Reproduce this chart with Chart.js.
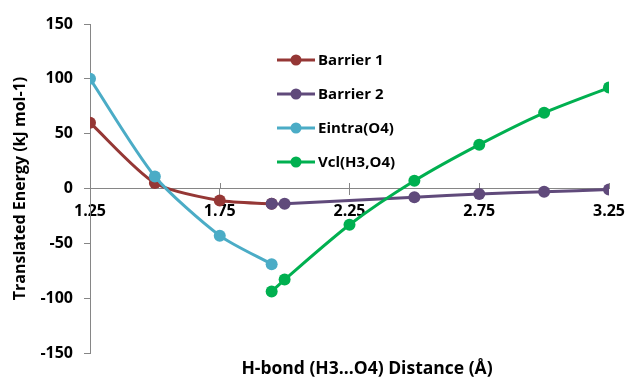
<!DOCTYPE html>
<html>
<head>
<meta charset="utf-8">
<script src="https://cdn.jsdelivr.net/npm/chart.js@4.4.0/dist/chart.umd.min.js"></script>
<style>
  html, body { margin: 0; padding: 0; background: #ffffff; }
  #wrap { width: 632px; height: 381px; }
</style>
</head>
<body>
<div id="wrap"><canvas id="c" width="632" height="381"></canvas></div>
<script>
// Series names, distances (Å) and translated energies (kJ mol-1)
const seriesNames = ['Barrier 1', 'Barrier 2', 'Eintra(O4)', 'Vcl(H3,O4)'];
const barrier1Dist = [1.25, 1.5, 1.75, 1.95];
const barrier1Energy = [60, 5, -11, -14];
const barrier2Dist = [1.95, 2.0, 2.5, 2.75, 3.0, 3.25];
const barrier2Energy = [-14, -14, -8, -5, -3, -1];
const eintraDist = [1.25, 1.5, 1.75, 1.95];
const eintraEnergy = [100, 11, -43, -69];
const vclDist = [1.95, 2.0, 2.25, 2.5, 2.75, 3.0, 3.25];
const vclEnergy = [-94, -83, -33, 7, 40, 69, 92];
const xTicks = [1.25, 1.75, 2.25, 2.75, 3.25];
const yTicks = [-150, -100, -50, 0, 50, 100, 150];
const xTitle = 'H-bond (H3...O4) Distance (Å)';
const yTitle = 'Translated Energy (kJ mol-1)';

const colors = ['#953735', '#604A7B', '#4BACC6', '#00B050'];
const axisColor = '#868686';
const FONT = '"Open Sans", Lato, sans-serif';

const toPoints = (xs, ys) => xs.map((x, i) => ({ x: x, y: ys[i] }));
const seriesData = [
  toPoints(barrier1Dist, barrier1Energy),
  toPoints(barrier2Dist, barrier2Energy),
  toPoints(eintraDist, eintraEnergy),
  toPoints(vclDist, vclEnergy)
];

const datasets = seriesNames.map((name, i) => ({
  label: name,
  data: seriesData[i],
  borderColor: colors[i],
  backgroundColor: colors[i],
  pointBackgroundColor: colors[i],
  pointBorderColor: colors[i],
  borderWidth: 3,
  pointRadius: 6,
  pointBorderWidth: 0,
  tension: 0.25,
  fill: false,
  order: seriesNames.length - i   // later series drawn on top
}));

// Upper half of the crossing tick marks on the zero line, legend, and x-axis title
const extras = {
  id: 'extras',
  beforeDatasetsDraw(chart) {
    const { ctx, scales: { x, y } } = chart;
    const y0 = Math.round(y.getPixelForValue(0));
    ctx.save();
    ctx.strokeStyle = axisColor;
    ctx.lineWidth = 1;
    xTicks.forEach(v => {
      const px = Math.round(x.getPixelForValue(v)) + 0.5;
      ctx.beginPath();
      ctx.moveTo(px, y0 - 6);
      ctx.lineTo(px, y0);
      ctx.stroke();
    });
    ctx.restore();
  },
  afterDraw(chart) {
    const { ctx, chartArea: a } = chart;
    ctx.save();
    // legend
    const lx0 = a.left + 187, lx1 = a.left + 225, rowTop = a.top + 36, rowGap = 34;
    seriesNames.forEach((name, i) => {
      const yy = rowTop + i * rowGap;
      ctx.strokeStyle = colors[i];
      ctx.lineWidth = 3;
      ctx.beginPath();
      ctx.moveTo(lx0, yy);
      ctx.lineTo(lx1, yy);
      ctx.stroke();
      ctx.fillStyle = colors[i];
      ctx.beginPath();
      ctx.arc((lx0 + lx1) / 2, yy, 5.5, 0, Math.PI * 2);
      ctx.fill();
      ctx.fillStyle = '#000';
      ctx.font = 'bold 15px ' + FONT;
      ctx.textAlign = 'left';
      ctx.textBaseline = 'middle';
      ctx.fillText(name, lx1 + 3, yy + 1);
    });
    // x-axis title
    ctx.fillStyle = '#000';
    ctx.font = 'bold 17.5px ' + FONT;
    ctx.textAlign = 'center';
    ctx.textBaseline = 'middle';
    ctx.fillText(xTitle, a.left + 277, a.bottom + 16);
    ctx.restore();
  }
};

Chart.defaults.font.family = FONT;
Chart.defaults.color = '#000';

new Chart(document.getElementById('c'), {
  type: 'line',
  data: { datasets: datasets },
  options: {
    responsive: false,
    animation: false,
    devicePixelRatio: 1,
    layout: { padding: { left: 0, right: 19, top: 24, bottom: 28 } },
    plugins: {
      legend: { display: false },
      tooltip: { enabled: false }
    },
    scales: {
      x: {
        type: 'linear',
        position: { y: 0 },
        min: xTicks[0],
        max: xTicks[xTicks.length - 1],
        afterBuildTicks: s => { s.ticks = xTicks.map(v => ({ value: v })); },
        ticks: {
          autoSkip: false,
          maxRotation: 0,
          padding: 7,
          color: '#000',
          font: { size: 16, weight: 'bold' },
          callback: v => Number(v).toFixed(2)
        },
        grid: { drawOnChartArea: false, drawTicks: true, tickLength: 6, color: axisColor },
        border: { color: axisColor, width: 1 }
      },
      y: {
        type: 'linear',
        position: 'left',
        min: yTicks[0],
        max: yTicks[yTicks.length - 1],
        afterBuildTicks: s => { s.ticks = yTicks.map(v => ({ value: v })); },
        afterFit: s => { s.width = 90; },
        ticks: {
          padding: 11,
          color: '#000',
          font: { size: 16, weight: 'bold' }
        },
        grid: { drawOnChartArea: false, drawTicks: true, tickLength: 6, color: axisColor },
        border: { color: axisColor, width: 1 },
        title: {
          display: true,
          text: yTitle,
          color: '#000',
          font: { size: 16, weight: 'bold' },
          padding: { top: 11, bottom: 0 }
        }
      }
    }
  },
  plugins: [extras]
});
</script>
</body>
</html>
